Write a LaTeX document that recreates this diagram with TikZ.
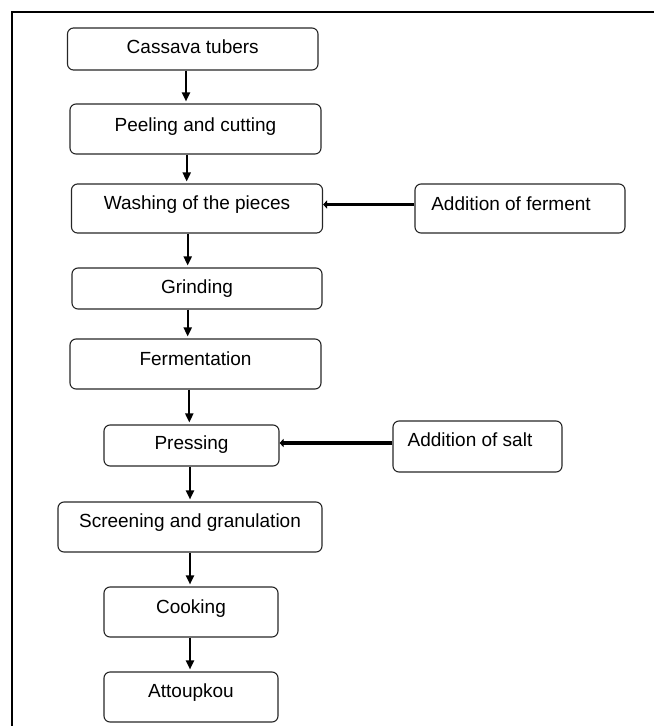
\documentclass[tikz,border=0pt]{standalone}
\usepackage{fontspec}
\setmainfont{Liberation Sans}
\usetikzlibrary{arrows.meta}
\begin{document}
\begin{tikzpicture}[x=1pt,y=-1pt,
  box/.style={draw=black!85, line width=1.1pt, rounded corners=6pt, inner sep=0pt,
    font=\fontsize{19}{22}\selectfont, text height=13.6pt},
  varr/.style={line width=2pt, -{Triangle[length=9pt,width=8pt]}, shorten >=2pt},
  harr/.style={line width=3.5pt, -{Triangle[length=4pt,width=8pt]}},
  frame/.style={line width=2.5pt}
]
\useasboundingbox (0,0) rectangle (654,726);
\coordinate (ftop) at (654,12);
\coordinate (fcorner) at (12,12);
\coordinate (fbot) at (12,726);
\draw[frame] (fbot) -- (fcorner) -- (ftop);

\node[box, minimum width=250.5pt, minimum height=42pt, text depth=4pt] (cas) at (192.75,49) {Cassava tubers};
\node[box, minimum width=251pt, minimum height=50pt, text depth=9pt] (peel) at (195.5,129) {Peeling and cutting};
\node[box, minimum width=251pt, minimum height=49pt, text depth=11pt] (wash) at (197,208.5) {Washing of the pieces};
\node[box, minimum width=250pt, minimum height=41pt, text depth=3pt] (grind) at (197,288.5) {Grinding};
\node[box, minimum width=251pt, minimum height=50pt, text depth=10.6pt] (ferm) at (195.5,364) {Fermentation};
\node[box, minimum width=175pt, minimum height=41pt, text depth=5pt] (press) at (191.5,445.5) {Pressing};
\node[box, minimum width=264pt, minimum height=50pt, text depth=13pt] (screen) at (190,527) {Screening and granulation};
\node[box, minimum width=174pt, minimum height=50pt, text depth=10pt] (cook) at (191,612) {Cooking};
\node[box, minimum width=174pt, minimum height=50pt, text depth=13pt] (att) at (191,697) {Attoupkou};

\node[box, minimum width=210pt, minimum height=49pt, text depth=9pt] (addf) at (520,208.5) {Addition of ferment\hspace*{18pt}};
\node[box, minimum width=169pt, minimum height=51pt, text depth=14pt] (adds) at (477.5,446.5) {Addition of salt\hspace*{15pt}};

\draw[varr] (cas.south -| 186,0) -- (peel.north -| 186,0);
\draw[varr] (peel.south -| 186.7,0) -- (wash.north -| 186.7,0);
\draw[varr] (wash.south -| 187.7,0) -- (grind.north -| 187.7,0);
\draw[varr] (grind.south -| 187.7,0) -- (ferm.north -| 187.7,0);
\draw[varr] (ferm.south -| 189.3,0) -- (press.north -| 189.3,0);
\draw[varr] (press.south -| 190,0) -- (screen.north -| 190,0);
\draw[varr] (screen.south -| 190,0) -- (cook.north -| 190,0);
\draw[varr] (cook.south -| 190,0) -- (att.north -| 190,0);

\draw[harr] (addf.west |- 0,204.5) -- (wash.east |- 0,204.5);
\draw[harr] (adds.west |- 0,443) -- (press.east |- 0,443);
\end{tikzpicture}
\end{document}
